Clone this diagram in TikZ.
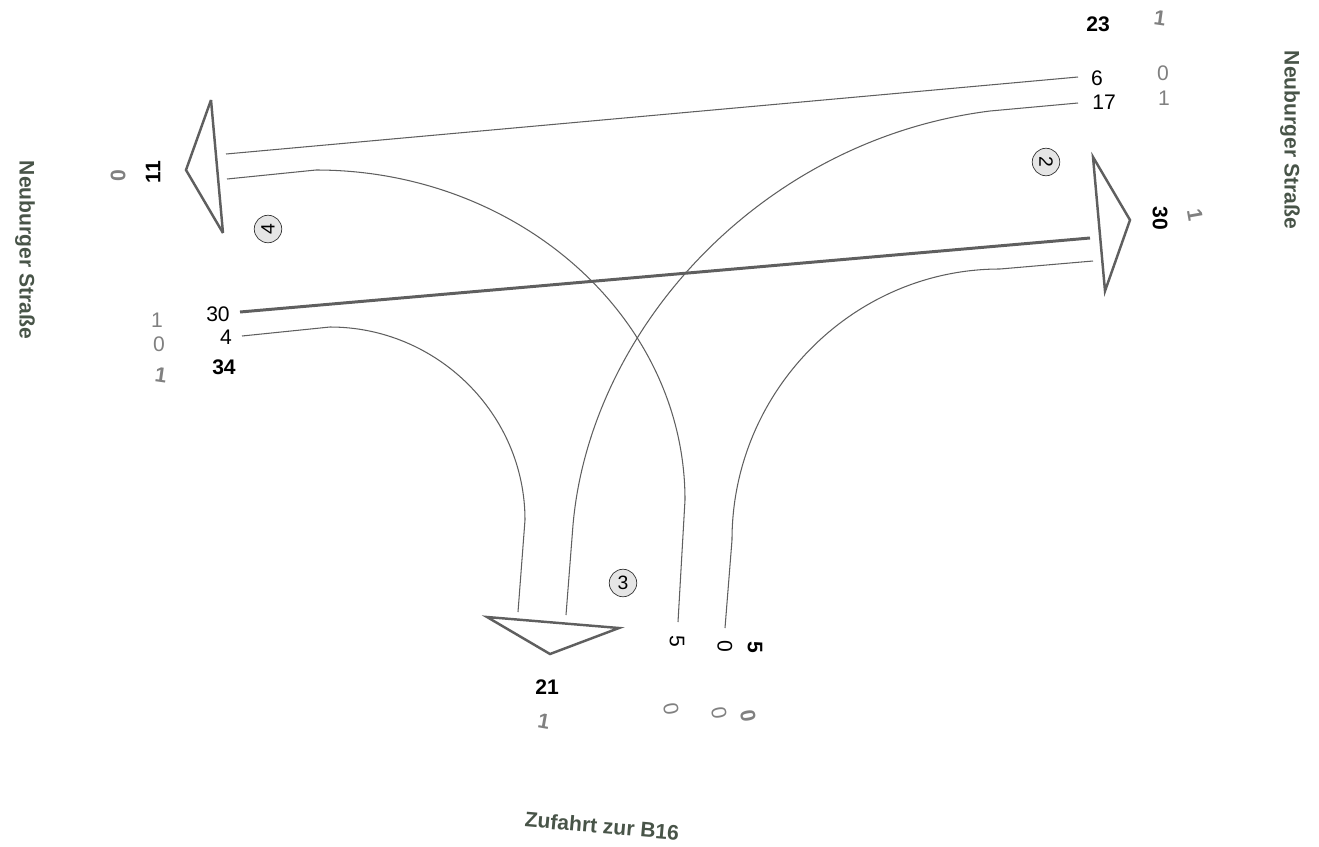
\documentclass[tikz,border=0pt]{standalone}
\usepackage{fontspec}
\setmainfont{Liberation Sans}
\usepackage{tikz}
\usetikzlibrary{positioning}
\definecolor{linegray}{RGB}{95,95,95}
\definecolor{numgray}{RGB}{128,128,128}
\definecolor{streetgreen}{RGB}{72,84,72}

\begin{document}
\begin{tikzpicture}[
    x=0.02cm, y=-0.02cm,
    flow/.style={
        draw=linegray, line width=0.6pt
    },
    heavy/.style={
        draw=linegray, line width=1.7pt
    },
    arm/.style={
        draw=linegray, line width=1.4pt, line join=miter
    },
    cnt/.style={
        inner sep=0pt, font=\fontsize{12}{14}\selectfont
    },
    tot/.style={
        inner sep=0pt, font=\fontsize{12}{14}\selectfont\bfseries
    },
    hv/.style={
        cnt, text=numgray
    },
    hvtot/.style={
        tot, text=numgray
    },
    street/.style={
        inner sep=0pt, font=\fontsize{12}{14}\selectfont\bfseries,
        text=streetgreen
    },
    nr/.style={
        circle, draw=black!80, fill=gray!20, line width=0.4pt,
        minimum size=0.55cm, inner sep=0pt,
        font=\fontsize{11}{12}\selectfont
    }
]
\useasboundingbox (0,0) rectangle (1319,846);

% Zufahrt-Pfeile
\draw[arm] (211,100) -- (186,170) -- (223,233);
\draw[arm] (1093,157) -- (1130,220) -- (1105,291) -- cycle;
\draw[arm] (487,617) -- (619,628) -- (550,654) -- cycle;
\draw[arm] (211,100) -- (223,233);

% Anschlusspunkte
\coordinate (ost6) at (1078,77);
\coordinate (west6) at (226,154);
\coordinate (ost17) at (1078,103);
\coordinate (sued17) at (566,615);
\coordinate (west5) at (227,179);
\coordinate (sued5) at (678,622);
\coordinate (west30) at (240,312);
\coordinate (ost30) at (1090,238);
\coordinate (west4) at (242,336);
\coordinate (sued4) at (518,612);
\coordinate (ost0) at (1093,261);
\coordinate (sued0) at (725,628);

% Stroeme
\draw[flow] (ost6) -- (west6);
\draw[flow] (ost17) -- (990,111)
    .. controls (760,140) and (590,330) .. (573,525) -- (sued17);
\draw[flow] (west5) -- (316,170)
    .. controls (519,170) and (685,318) .. (685,500) -- (sued5);
\draw[heavy] (west30) -- (ost30);
\draw[flow] (west4) -- (330,327)
    .. controls (437,327) and (525,414) .. (525,520) -- (sued4);
\draw[flow] (ost0) -- (1000,269)
    .. controls (853,269) and (732,391) .. (732,540) -- (sued0);

% Knotenarme
\node[nr, rotate=-90] (arm2) at (1046,162) {2};
\node[nr] (arm3) at (623,583) {3};
\node[nr, rotate=90] (arm4) at (268,229) {4};

% Ost
\node[tot] (ostsum) at (1098,24) {23};
\node[hvtot, rotate=-8] (ostsumhv) at (1160,18) {1};
\node[cnt] (ostn6) at (1097,78) {6};
\node[cnt] (ostn17) at (1104,102) {17};
\node[hv] (osthv6) at (1163,73) {0};
\node[hv] (osthv17) at (1164,98) {1};
\node[tot, rotate=-90] (ostein) at (1160,218) {30};
\node[hvtot, rotate=-80] (osteinhv) at (1195,215) {1};
\node[street, rotate=-90] (strost) at (1290,140) {Neuburger Straße};

% West
\node[street, rotate=-90] (strwest) at (25,250) {Neuburger Straße};
\node[tot, rotate=90] (westein) at (153,172) {11};
\node[hvtot, rotate=90] (westeinhv) at (118,176) {0};
\node[cnt] (westn30) at (218,314) {30};
\node[cnt] (westn4) at (226,337) {4};
\node[tot] (westsum) at (224,367) {34};
\node[hv] (westhv30) at (157,320) {1};
\node[hv] (westhv4) at (159,344) {0};
\node[hvtot, rotate=-8] (westsumhv) at (161,375) {1};

% Sued
\node[cnt, rotate=-90] (suedn5) at (677,641) {5};
\node[cnt, rotate=-90] (suedn0) at (725,646) {0};
\node[tot, rotate=-90] (suedsum) at (755,647) {5};
\node[tot] (suedein) at (547,687) {21};
\node[hvtot, rotate=-10] (suedeinhv) at (544,721) {1};
\node[hv, rotate=-80] (suedhv5) at (671,709) {0};
\node[hv, rotate=-80] (suedhv0) at (719,713) {0};
\node[hvtot, rotate=-80] (suedsumhv) at (748,716) {0};
\node[street, rotate=-5] (strsued) at (602,826) {Zufahrt zur B16};

\end{tikzpicture}
\end{document}
